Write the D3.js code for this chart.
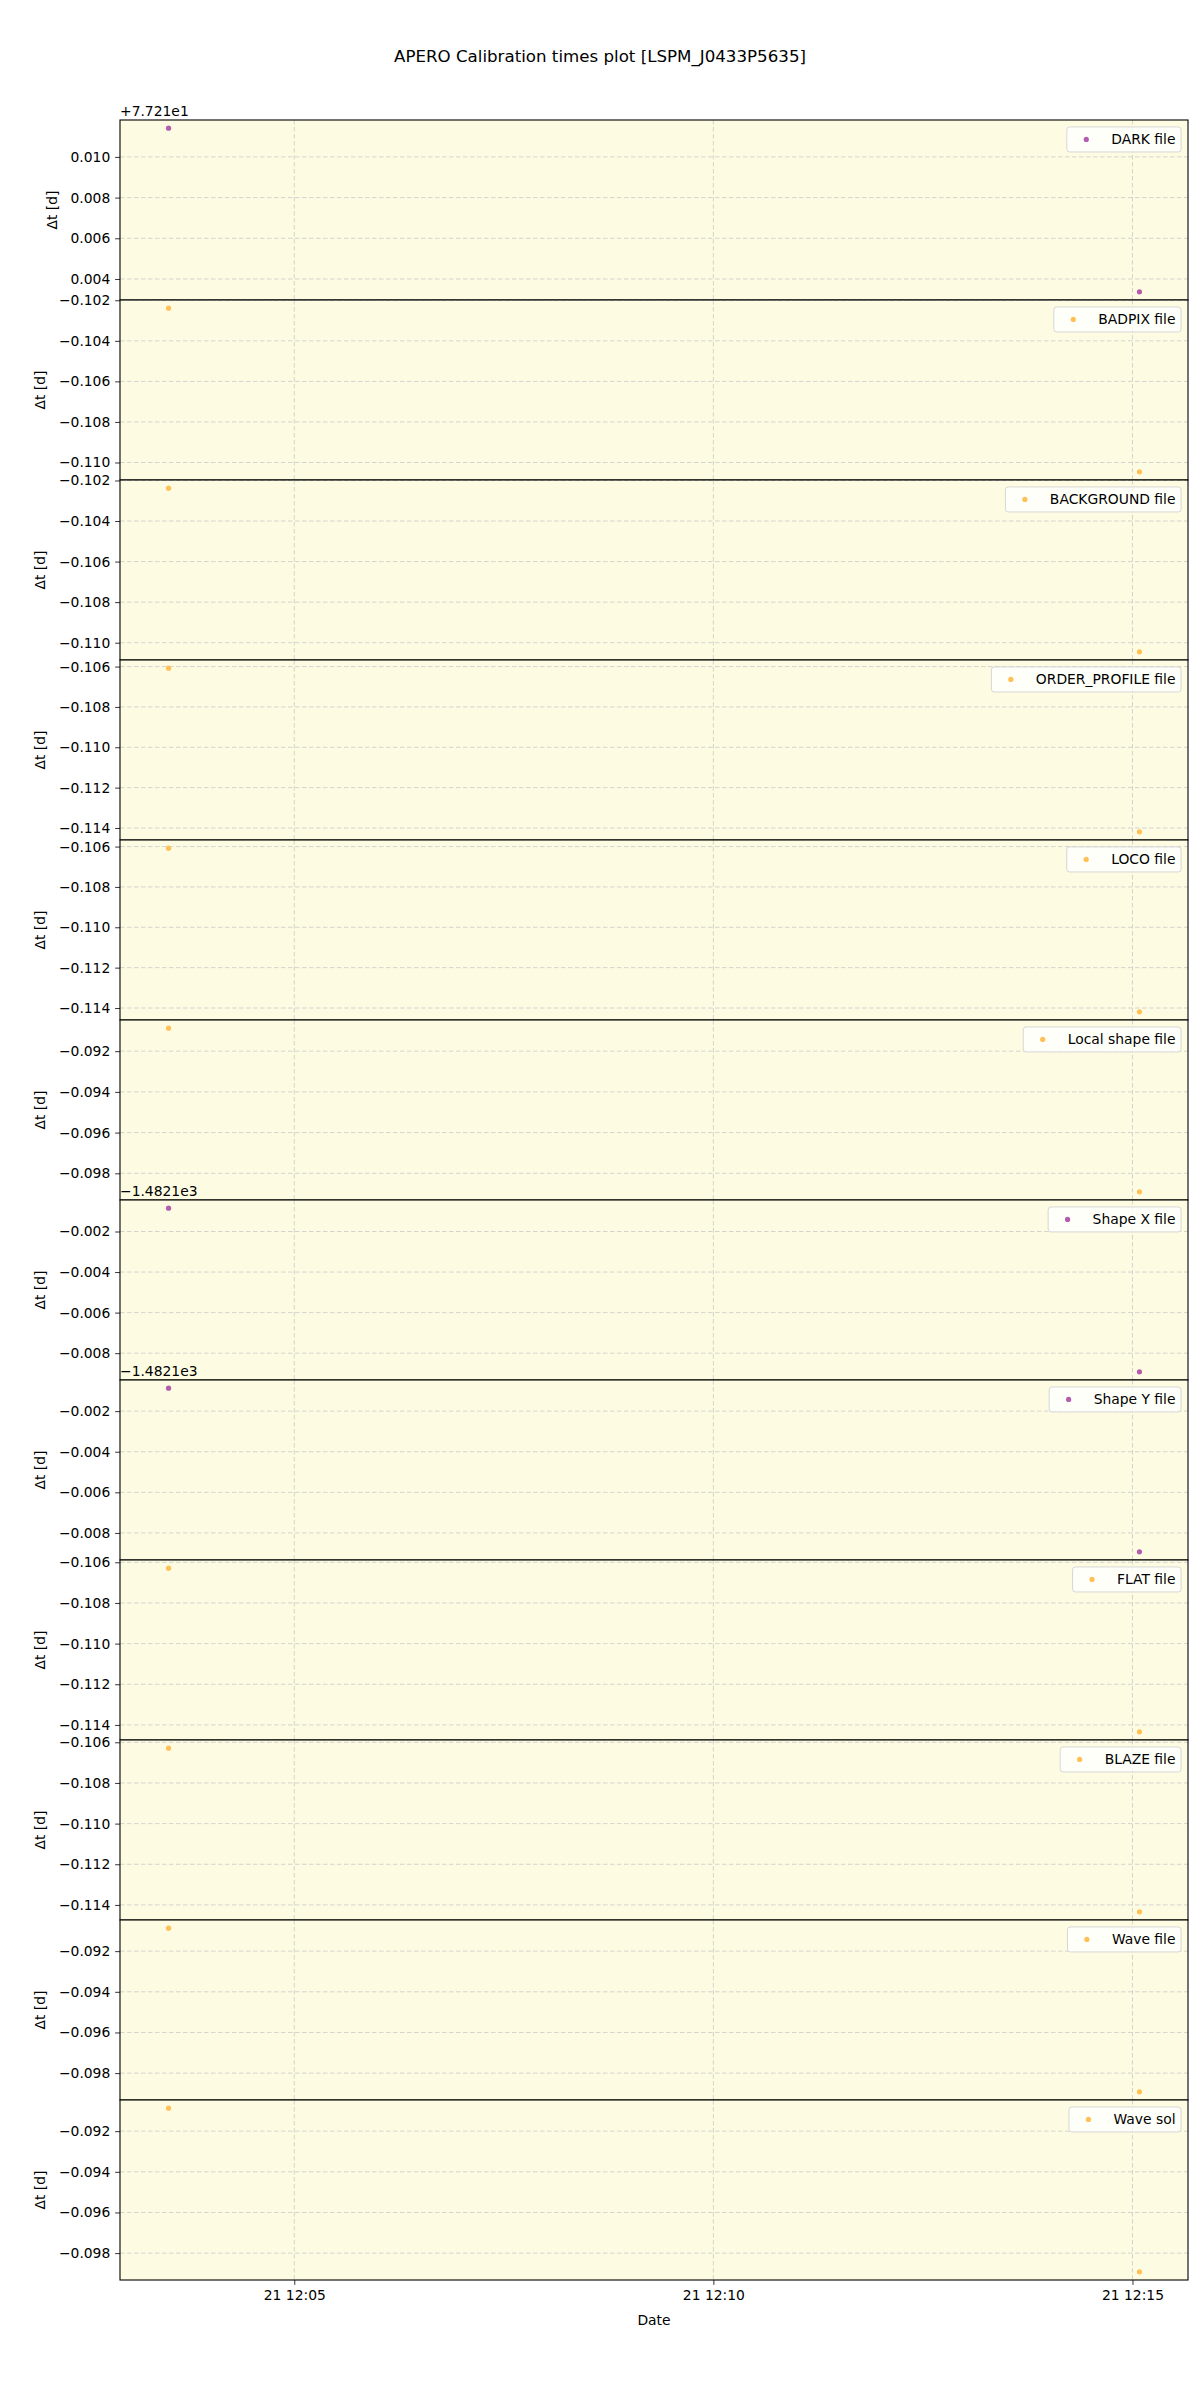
<!DOCTYPE html>
<html>
<head>
<meta charset="utf-8">
<script src="https://cdn.jsdelivr.net/npm/d3@7"></script>
<style>
  html, body { margin: 0; padding: 0; background: #ffffff; }
  svg { display: block; font-family: "DejaVu Sans", sans-serif; }
</style>
</head>
<body>
<svg id="chart" width="1200" height="2400"></svg>
<script>
// ---------------- data ----------------
const titleText = "APERO Calibration times plot [LSPM_J0433P5635]";
const panelLabels = ["DARK file", "BADPIX file", "BACKGROUND file", "ORDER_PROFILE file",
  "LOCO file", "Local shape file", "Shape X file", "Shape Y file", "FLAT file",
  "BLAZE file", "Wave file", "Wave sol"];
const panelKinds = ["purple", "orange", "orange", "orange", "orange", "orange",
  "purple", "purple", "orange", "orange", "orange", "orange"];
const obsTimes = ["2020-10-21T12:03:30Z", "2020-10-21T12:15:05Z"];
const dtFirst = [77.22141, -0.10239, -0.10238, -0.10608, -0.10608, -0.09087,
  -1482.10085, -1482.10087, -0.10629, -0.10629, -0.09087, -0.09087];
const dtSecond = [77.21337, -0.11046, -0.11045, -0.11419, -0.11419, -0.09891,
  -1482.10892, -1482.10893, -0.11434, -0.11434, -0.09892, -0.09892];
const yOffsets = [77.21, 0, 0, 0, 0, 0, -1482.1, -1482.1, 0, 0, 0, 0];
const yOffsetLabels = ["+7.721e1", "", "", "", "", "", "\u22121.4821e3", "\u22121.4821e3", "", "", "", ""];
const xTickFormat = "%d %H:%M";
const yLabel = "\u0394t [d]";
const xLabel = "Date";

(function () {
// ---------------- styles ----------------
const colorMap = { purple: "rgb(180,92,174)", orange: "rgb(255,193,86)" };
const W = 1200, H = 2400;
const mLeft = 120, mRight = 1188, mTop = 120, mBottom = 2280;
const nP = panelLabels.length;
const ph = (mBottom - mTop) / nP;
const fs = 13.89;
const tickLen = 4.86, tickPad = 4.86;

const svg = d3.select("#chart");

svg.append("text")
  .attr("x", W / 2).attr("y", 62)
  .attr("text-anchor", "middle")
  .attr("font-size", 16.67)
  .attr("fill", "#000")
  .text(titleText);

const tParsed = obsTimes.map(s => new Date(s));
const tMin = d3.min(tParsed), tMax = d3.max(tParsed);
const tSpan = tMax - tMin;
const x = d3.scaleUtc()
  .domain([new Date(+tMin - 0.05 * tSpan), new Date(+tMax + 0.05 * tSpan)])
  .range([mLeft, mRight]);
const xTicks = x.ticks(d3.utcMinute.every(5));

panelLabels.forEach((label, i) => {
  const y0 = mTop + i * ph, y1 = y0 + ph;
  const rel = [dtFirst[i] - yOffsets[i], dtSecond[i] - yOffsets[i]];
  const lo = d3.min(rel), hi = d3.max(rel), sp = hi - lo;
  const y = d3.scaleLinear().domain([lo - 0.05 * sp, hi + 0.05 * sp]).range([y1, y0]);
  const g = svg.append("g");

  g.append("rect").attr("x", mLeft).attr("y", y0).attr("width", mRight - mLeft).attr("height", ph)
    .attr("fill", "#fdfce2");

  xTicks.forEach(t => {
    g.append("line").attr("x1", x(t)).attr("x2", x(t)).attr("y1", y0).attr("y2", y1)
      .attr("stroke", "#c9c9c9").attr("stroke-width", 0.8).attr("stroke-dasharray", "4.5,2.5");
  });
  const yTicks = y.ticks(5);
  yTicks.forEach(v => {
    g.append("line").attr("x1", mLeft).attr("x2", mRight).attr("y1", y(v)).attr("y2", y(v))
      .attr("stroke", "#c9c9c9").attr("stroke-width", 0.8).attr("stroke-dasharray", "4.5,2.5");
  });

  const pts = [{ t: tParsed[0], v: rel[0] }, { t: tParsed[1], v: rel[1] }];
  g.selectAll("circle.pt").data(pts).enter().append("circle")
    .attr("cx", d => x(d.t)).attr("cy", d => y(d.v)).attr("r", 2.6)
    .attr("fill", colorMap[panelKinds[i]]);

  const yAxis = d3.axisLeft(y).tickValues(yTicks).tickFormat(d3.format(".3f"))
    .tickSize(tickLen).tickPadding(tickPad);
  const ag = g.append("g").attr("transform", `translate(${mLeft},0)`).call(yAxis);
  ag.select(".domain").remove();
  ag.selectAll(".tick line").attr("stroke", "#000").attr("stroke-width", 0.8);
  ag.selectAll(".tick text").attr("font-size", fs).attr("fill", "#000")
    .attr("font-family", "DejaVu Sans");

  let minX = mLeft;
  ag.selectAll(".tick text").each(function () {
    const b = this.getBBox();
    const tx = mLeft + b.x - tickLen;
    if (tx < minX) minX = tx;
  });
  const lx = minX - 5.56 - 3.5;
  g.append("text")
    .attr("transform", `translate(${lx},${(y0 + y1) / 2}) rotate(-90)`)
    .attr("text-anchor", "middle").attr("font-size", fs).attr("fill", "#000")
    .text(yLabel);

  if (yOffsetLabels[i]) {
    g.append("text").attr("x", mLeft).attr("y", y0 - 4)
      .attr("font-size", fs).attr("fill", "#000").text(yOffsetLabels[i]);
  }

  const lg = g.append("g");
  const lt = lg.append("text").attr("font-size", fs).attr("fill", "#000").text(label);
  const tw = lt.node().getComputedTextLength();
  const bp = 5.56, hl = 27.78, htp = 11.11, bap = 6.94;
  const bw = bp + hl + htp + tw + bp;
  const bh = 25;
  const bx = mRight - bap - bw, by = y0 + bap;
  lg.insert("rect", "text").attr("x", bx).attr("y", by).attr("width", bw).attr("height", bh)
    .attr("rx", 2.8).attr("ry", 2.8)
    .attr("fill", "rgba(255,255,255,0.8)").attr("stroke", "#d6d6d6").attr("stroke-width", 1);
  lg.append("circle").attr("cx", bx + bp + hl / 2).attr("cy", by + bh / 2).attr("r", 2.6)
    .attr("fill", colorMap[panelKinds[i]]);
  lt.attr("x", bx + bp + hl + htp).attr("y", by + bh / 2 + 5);

  g.append("rect").attr("x", mLeft).attr("y", y0).attr("width", mRight - mLeft).attr("height", ph)
    .attr("fill", "none").attr("stroke", "#000").attr("stroke-width", 1.1);

  if (i === nP - 1) {
    const xAxis = d3.axisBottom(x).tickValues(xTicks).tickFormat(d3.utcFormat(xTickFormat))
      .tickSize(tickLen).tickPadding(tickPad);
    const xg = g.append("g").attr("transform", `translate(0,${y1})`).call(xAxis);
    xg.select(".domain").remove();
    xg.selectAll(".tick line").attr("stroke", "#000").attr("stroke-width", 0.8);
    xg.selectAll(".tick text").attr("font-size", fs).attr("fill", "#000")
      .attr("font-family", "DejaVu Sans");
    g.append("text").attr("x", (mLeft + mRight) / 2).attr("y", y1 + 45)
      .attr("text-anchor", "middle").attr("font-size", fs).attr("fill", "#000").text(xLabel);
  }
});
})();
</script>
</body>
</html>
